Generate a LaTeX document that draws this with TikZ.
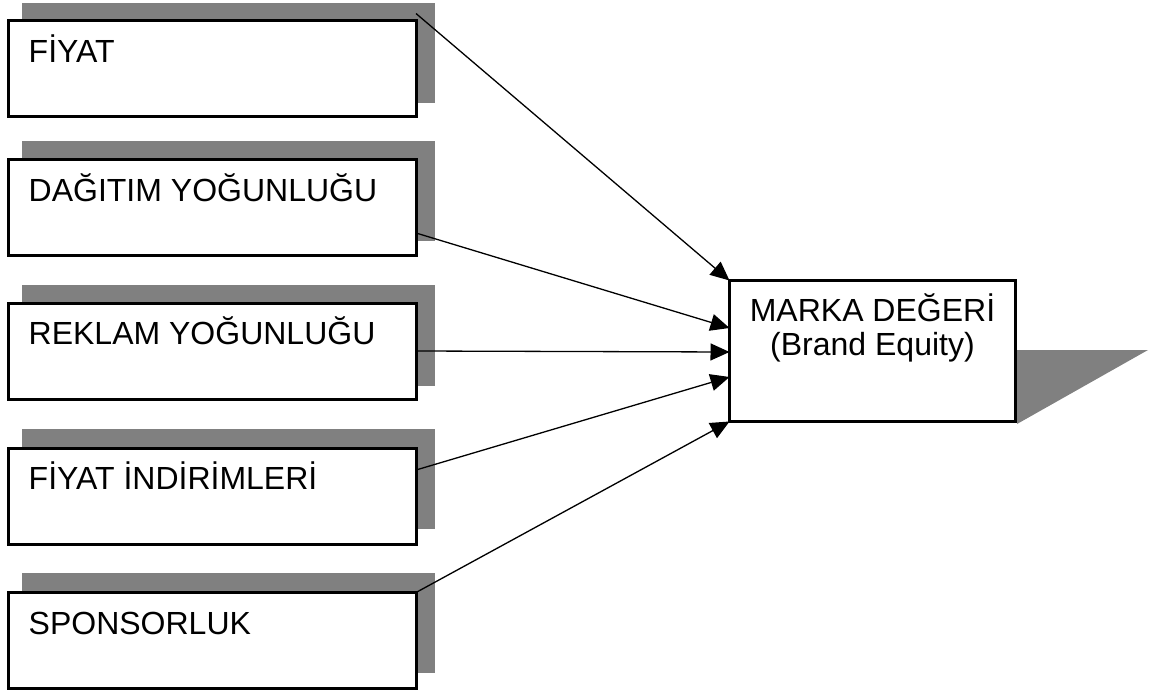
\documentclass[tikz,border=0pt]{standalone}
\usepackage{fontspec}
\setmainfont{Liberation Sans}
\usetikzlibrary{arrows.meta,calc}
\definecolor{shade}{HTML}{808080}
\begin{document}
\begin{tikzpicture}[x=1pt,y=-1pt,
  factor/.style={draw=black,line width=3pt,fill=white,minimum width=408pt,minimum height=96pt,
    anchor=north west,outer sep=0pt,inner sep=0pt},
  shadowbox/.style={fill=shade,draw=none},
  lbl/.style={anchor=base west,inner sep=0pt,font=\fontsize{32}{34}\selectfont},
  conn/.style={line width=1.3pt,-{Triangle[length=19pt,width=17pt]}}]
\useasboundingbox (0,0) rectangle (1153,690);
% shadows
\fill[shadowbox] (22,3) rectangle (435,103);
\fill[shadowbox] (22,141) rectangle (435,241);
\fill[shadowbox] (22,285) rectangle (435,386);
\fill[shadowbox] (22,429) rectangle (435,529);
\fill[shadowbox] (22,573) rectangle (435,673);
\fill[shadowbox] (1017,350) -- (1148,350) -- (1017,424) -- cycle;
% boxes
\node[factor] (b1) at (8,20.5) {};
\node[factor] (b2) at (8,159.5) {};
\node[factor] (b3) at (8,303.5) {};
\node[factor] (b4) at (8,448.5) {};
\node[factor] (b5) at (8,592.5) {};
\node[draw=black,line width=3pt,fill=white,minimum width=286pt,minimum height=141pt,
  anchor=north west,outer sep=0pt,inner sep=0pt] (m) at (729.5,280.5) {};
% labels
\node[lbl] (t1) at (28.5,63) {FİYAT};
\node[lbl] (t2) at (28.5,201) {DAĞITIM YOĞUNLUĞU};
\node[lbl] (t3) at (28.5,344) {REKLAM YOĞUNLUĞU};
\node[lbl] (t4) at (28.5,489) {FİYAT İNDİRİMLERİ};
\node[lbl] (t5) at (28.5,634) {SPONSORLUK};
\node[anchor=base,inner sep=0pt,font=\fontsize{32}{34}\selectfont] (mt1) at (872.5,321) {MARKA DEĞERİ};
\node[anchor=base,inner sep=0pt,font=\fontsize{32}{34}\selectfont] (mt2) at (872.5,355) {(Brand Equity)};
% connectors
\coordinate (s1) at ($(b1.north east)+(0,-7)$);
\draw[conn] (s1) -- (m.north west);
\draw[conn] (b2.east |- 0,233) -- (m.west |- 0,328);
\draw[conn] (b3.east |- 0,351) -- (m.west |- 0,352);
\draw[conn] (b4.east |- 0,470) -- (m.west |- 0,377);
\draw[conn] (b5.north east) -- (m.south west);
\end{tikzpicture}
\end{document}
